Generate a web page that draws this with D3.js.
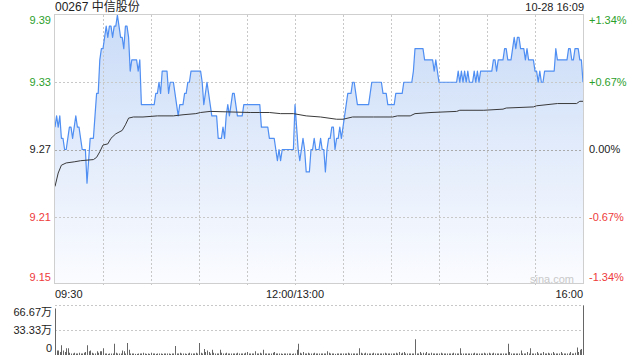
<!DOCTYPE html>
<html>
<head>
<meta charset="utf-8">
<script src="https://d3js.org/d3.v7.min.js"></script>
<style>
body { margin: 0; background: #fff; }
text { font-family: "Liberation Sans", Arial, "Noto Sans CJK SC", sans-serif; }
.grid { stroke: #c8c8c8; stroke-dasharray: 2,2; shape-rendering: crispEdges; }
</style>
</head>
<body>
<svg id="chart" width="640" height="360"></svg>
<script>
var title = "00267 中信股份";
var stamp = "10-28 16:09";
var prevClose = 9.27;

// one price per minute, 09:30 .. 12:00 | 13:00 .. 16:00
var prices = [
  9.29, 9.30, 9.29, 9.30, 9.28, 9.28, 9.27, 9.27, 9.28, 9.29,
  9.29, 9.28, 9.29, 9.30, 9.29, 9.29, 9.28, 9.27, 9.27, 9.27,
  9.24, 9.26, 9.28, 9.28, 9.28, 9.30, 9.32, 9.32, 9.35, 9.36,
  9.36, 9.37, 9.38, 9.37, 9.38, 9.38, 9.37, 9.38, 9.38, 9.39,
  9.38, 9.37, 9.37, 9.36, 9.38, 9.38, 9.37, 9.34, 9.35, 9.35,
  9.35, 9.35, 9.34, 9.35, 9.31, 9.31, 9.31, 9.31, 9.31, 9.31,
  9.31, 9.31, 9.31, 9.32, 9.32, 9.33, 9.32, 9.34, 9.34, 9.34,
  9.34, 9.32, 9.33, 9.33, 9.33, 9.32, 9.31, 9.30, 9.31, 9.31,
  9.31, 9.32, 9.32, 9.33, 9.33, 9.34, 9.34, 9.34, 9.34, 9.34,
  9.34, 9.34, 9.33, 9.31, 9.32, 9.33, 9.32, 9.31, 9.30, 9.30,
  9.30, 9.30, 9.28, 9.28, 9.28, 9.29, 9.28, 9.30, 9.31, 9.30,
  9.31, 9.32, 9.32, 9.31, 9.30, 9.30, 9.30, 9.30, 9.31, 9.31,
  9.31, 9.31, 9.31, 9.31, 9.31, 9.31, 9.31, 9.31, 9.31, 9.29,
  9.29, 9.29, 9.29, 9.29, 9.28, 9.28, 9.28, 9.28, 9.27, 9.26,
  9.27, 9.26, 9.27, 9.27, 9.27, 9.27, 9.27, 9.27, 9.27, 9.27,
  9.31, 9.29, 9.27, 9.26, 9.27, 9.28, 9.27, 9.25, 9.25, 9.25,
  9.27, 9.27, 9.28, 9.27, 9.27, 9.27, 9.28, 9.27, 9.27, 9.25,
  9.27, 9.28, 9.28, 9.29, 9.29, 9.27, 9.28, 9.28, 9.29, 9.28,
  9.29, 9.30, 9.31, 9.32, 9.32, 9.32, 9.33, 9.33, 9.32, 9.31,
  9.31, 9.31, 9.31, 9.31, 9.31, 9.31, 9.31, 9.32, 9.33, 9.33,
  9.33, 9.33, 9.33, 9.33, 9.33, 9.32, 9.32, 9.32, 9.31, 9.31,
  9.31, 9.31, 9.31, 9.32, 9.32, 9.32, 9.32, 9.32, 9.33, 9.33,
  9.33, 9.33, 9.33, 9.33, 9.34, 9.36, 9.36, 9.36, 9.36, 9.36,
  9.36, 9.35, 9.35, 9.35, 9.35, 9.35, 9.35, 9.34, 9.35, 9.34,
  9.33, 9.33, 9.33, 9.33, 9.33, 9.33, 9.33, 9.33, 9.33, 9.33,
  9.33, 9.33, 9.34, 9.33, 9.34, 9.33, 9.34, 9.33, 9.34, 9.33,
  9.33, 9.33, 9.34, 9.33, 9.34, 9.33, 9.34, 9.34, 9.34, 9.34,
  9.34, 9.34, 9.34, 9.34, 9.35, 9.35, 9.34, 9.35, 9.35, 9.35,
  9.35, 9.36, 9.36, 9.35, 9.35, 9.35, 9.36, 9.37, 9.36, 9.37,
  9.37, 9.36, 9.36, 9.36, 9.35, 9.36, 9.35, 9.35, 9.35, 9.35,
  9.34, 9.34, 9.33, 9.34, 9.33, 9.33, 9.34, 9.34, 9.34, 9.34,
  9.34, 9.34, 9.34, 9.36, 9.35, 9.35, 9.35, 9.35, 9.35, 9.35,
  9.35, 9.36, 9.36, 9.35, 9.35, 9.36, 9.36, 9.36, 9.35, 9.35,
  9.33
];

// average price line, sampled at these minutes
var avgMinutes = [0, 2, 4, 7, 12, 16, 24, 26, 28, 30, 33, 35, 38, 42, 44, 46, 49, 55, 64, 74,
  80, 88, 91, 97, 122, 128, 134, 141, 149, 157, 166, 176, 180, 186, 199, 211, 214, 222, 225, 235,
  251, 253, 268, 280, 282, 299, 301, 314, 326, 328, 330];
var avgPrices = [9.237, 9.249, 9.256, 9.258, 9.259, 9.260, 9.261, 9.263, 9.268, 9.274,
  9.275, 9.280, 9.284, 9.287, 9.292, 9.298, 9.299, 9.299, 9.300, 9.300,
  9.301, 9.302, 9.303, 9.304, 9.303, 9.303, 9.303, 9.302, 9.302, 9.300,
  9.299, 9.297, 9.297, 9.299, 9.299, 9.299, 9.300, 9.300, 9.302, 9.303,
  9.304, 9.305, 9.305, 9.306, 9.307, 9.308, 9.309, 9.311, 9.311, 9.313,
  9.313];

// volume per minute, in 万 shares
var volumes = [
  62, 6, 6, 4, 13, 6, 4, 9, 9, 3,
  2, 2, 3, 2, 2, 3, 2, 2, 3, 4,
  13, 5, 6, 3, 2, 2, 5, 3, 5, 5,
  9, 2, 2, 1.5, 2, 2, 2, 15, 3, 2,
  2, 2, 6, 5, 2, 16, 7, 2, 2, 2,
  1.5, 1.5, 2, 2, 2, 3, 2, 1.5, 2, 1.5,
  3, 2, 2, 1.5, 2, 2, 2, 1.5, 2, 2,
  2, 2, 1.5, 2, 2, 12, 2, 2, 3, 2,
  2, 2, 1.5, 2, 3, 2, 2, 2, 3, 2,
  16, 3, 2, 8, 4, 6, 4, 2, 7, 3,
  2, 2, 2, 7, 3, 2, 2, 3, 2, 2,
  2, 2, 2, 2, 3, 2, 2, 2, 2, 3,
  4, 2, 2, 2, 2, 5, 2, 2, 3, 2,
  7, 2, 2, 2, 2, 2, 3, 4, 2, 2,
  2, 2, 1.5, 2, 2, 2, 2, 2, 1.5, 2,
  2, 7, 15, 3, 2, 4, 2, 2, 3, 2,
  2, 2, 3, 2, 2, 2, 2, 2, 2, 2,
  5, 3, 2, 2, 2, 1.5, 2, 2, 2, 2,
  2, 2, 2, 3, 2, 2, 2, 2, 2, 2,
  9, 3, 2, 2, 3, 2, 2, 2, 2, 3,
  2, 2, 2, 2, 2, 2, 3, 2, 2, 2,
  2, 2, 2, 3, 2, 4, 2, 3, 4, 2,
  2, 2, 2, 2, 2, 21, 2, 2, 4, 2,
  3, 2, 4, 2, 2, 3, 2, 2, 2, 2,
  2, 3, 2, 2, 2, 2, 2, 2, 2, 3,
  2, 2, 2, 9, 2, 2, 2, 2, 2, 2,
  2, 2, 3, 2, 2, 2, 2, 2, 3, 2,
  2, 3, 2, 2, 3, 2, 2, 2, 2, 2,
  2, 2, 2, 15, 4, 2, 2, 2, 2, 2,
  2, 6, 2, 2, 2, 4, 2, 9, 2, 2,
  2, 4, 2, 2, 2, 4, 2, 2, 3, 2,
  2, 4, 2, 2, 2, 2, 4, 2, 2, 2,
  2, 2, 4, 2, 2, 3, 10, 4, 7, 8,
  66
];

var priceTicks = [9.39, 9.33, 9.27, 9.21, 9.15];
var pctTicks = ["+1.34%", "+0.67%", "0.00%", "-0.67%", "-1.34%"];
var volTicks = [66.67, 33.33, 0];
var volTickLabels = ["66.67万", "33.33万", "0"];
var timeTicks = [0, 150, 330];
var timeLabels = ["09:30", "12:00/13:00", "16:00"];
var gridMinutes = [30, 60, 90, 120, 150, 180, 210, 240, 270, 300];

var green = "#2ba02b", red = "#ee3b3b", ink = "#222";
var pLeft = 55, pRight = 584, pTop = 15, pBottom = 284;
var vTop = 305, vBottom = 355;

var svg = d3.select("#chart");

var x = d3.scaleLinear().domain([0, 330]).range([pLeft, 583]);
var y = d3.scaleLinear().domain([9.15, 9.39]).range([pBottom, pTop]);
var yv = d3.scaleLinear().domain([0, 66.67]).range([vBottom, vTop]);

function tickColor(p) {
  if (p > prevClose) return green;
  if (p < prevClose) return red;
  return ink;
}

// gradient for the area under price
var grad = svg.append("defs").append("linearGradient")
    .attr("id", "fillGrad")
    .attr("gradientUnits", "userSpaceOnUse")
    .attr("x1", 0).attr("y1", pTop).attr("x2", 0).attr("y2", pBottom);
grad.append("stop").attr("offset", "0%").attr("stop-color", "#c9dbf7");
grad.append("stop").attr("offset", "100%").attr("stop-color", "#fbfcff");

// area under the price line
svg.append("path")
    .datum(prices)
    .attr("fill", "url(#fillGrad)")
    .attr("d", d3.area()
      .x(function(d, i) { return x(i); })
      .y0(pBottom)
      .y1(function(d) { return y(d); }));

// grid lines
svg.append("g").selectAll("line")
    .data(gridMinutes).enter().append("line")
    .attr("class", "grid")
    .attr("x1", function(d) { return Math.round(x(d)) + 0.5; })
    .attr("x2", function(d) { return Math.round(x(d)) + 0.5; })
    .attr("y1", pTop).attr("y2", pBottom + 3);

svg.append("g").selectAll("line")
    .data([9.33, 9.27, 9.21]).enter().append("line")
    .attr("class", "grid")
    .style("stroke", function(d) { return d == prevClose ? "#aaa" : null; })
    .attr("x1", pLeft).attr("x2", pRight)
    .attr("y1", function(d) { return Math.round(y(d)) + 0.5; })
    .attr("y2", function(d) { return Math.round(y(d)) + 0.5; });

svg.append("path")
    .datum(prices)
    .attr("fill", "none")
    .attr("stroke", "#4f8ef2")
    .attr("stroke-width", 1.2)
    .attr("stroke-linejoin", "round")
    .attr("d", d3.line()
      .x(function(d, i) { return x(i); })
      .y(function(d) { return y(d); }));

svg.append("path")
    .datum(avgMinutes)
    .attr("fill", "none")
    .attr("stroke", "#3a3a3a")
    .attr("stroke-width", 1)
    .attr("d", d3.line()
      .x(function(d) { return x(d); })
      .y(function(d, i) { return y(avgPrices[i]); }));

// frame
svg.append("rect")
    .attr("x", pLeft - 0.5).attr("y", pTop - 0.5)
    .attr("width", pRight - pLeft).attr("height", pBottom - pTop)
    .attr("fill", "none").attr("stroke", "#cfcfcf");

// watermark
svg.append("text")
    .attr("x", 574).attr("y", 283)
    .attr("text-anchor", "end")
    .attr("font-size", "11px")
    .attr("fill", "#c9c9c9")
    .text("sina.com");

// left price labels
svg.append("g").selectAll("text")
    .data(priceTicks).enter().append("text")
    .attr("x", 51)
    .attr("y", function(d) { return Math.max(pTop + 5, Math.min(pBottom - 7, y(d))); })
    .attr("dy", "0.35em")
    .attr("text-anchor", "end")
    .attr("font-size", "11px")
    .attr("fill", tickColor)
    .text(function(d) { return d.toFixed(2); });

// right percent labels
svg.append("g").selectAll("text")
    .data(priceTicks).enter().append("text")
    .attr("x", 589)
    .attr("y", function(d) { return Math.max(pTop + 5, Math.min(pBottom - 7, y(d))); })
    .attr("dy", "0.35em")
    .attr("font-size", "11px")
    .attr("fill", tickColor)
    .text(function(d, i) { return pctTicks[i]; });

// time labels
svg.append("g").selectAll("text")
    .data(timeTicks).enter().append("text")
    .attr("x", function(d) { return x(d); })
    .attr("y", 298)
    .attr("text-anchor", function(d, i) { return i == 0 ? "start" : (i == 2 ? "end" : "middle"); })
    .attr("font-size", "11px")
    .attr("fill", ink)
    .text(function(d, i) { return timeLabels[i]; });

// title
svg.append("text")
    .attr("x", pLeft).attr("y", 11)
    .attr("font-size", "12px")
    .attr("fill", ink)
    .text(title);
svg.append("text")
    .attr("x", pRight).attr("y", 11)
    .attr("text-anchor", "end")
    .attr("font-size", "11px")
    .attr("fill", ink)
    .text(stamp);

// volume panel
svg.append("g").selectAll("line")
    .data([66.67, 33.33]).enter().append("line")
    .attr("class", "grid")
    .attr("x1", pLeft).attr("x2", pRight)
    .attr("y1", function(d) { return Math.round(yv(d)) + 0.5; })
    .attr("y2", function(d) { return Math.round(yv(d)) + 0.5; });

svg.append("g").selectAll("rect")
    .data(volumes).enter().append("rect")
    .attr("x", function(d, i) { return Math.round(x(i)); })
    .attr("width", 1)
    .attr("y", function(d) { return yv(d); })
    .attr("height", function(d) { return vBottom - yv(d); })
    .attr("fill", "#666");

svg.append("g").selectAll("text")
    .data(volTicks).enter().append("text")
    .attr("x", 52)
    .attr("y", function(d, i) { return [312, 330, 348][i]; })
    .attr("dy", "0.35em")
    .attr("text-anchor", "end")
    .attr("font-size", "11px")
    .attr("fill", ink)
    .text(function(d, i) { return volTickLabels[i]; });
</script>
</body>
</html>
